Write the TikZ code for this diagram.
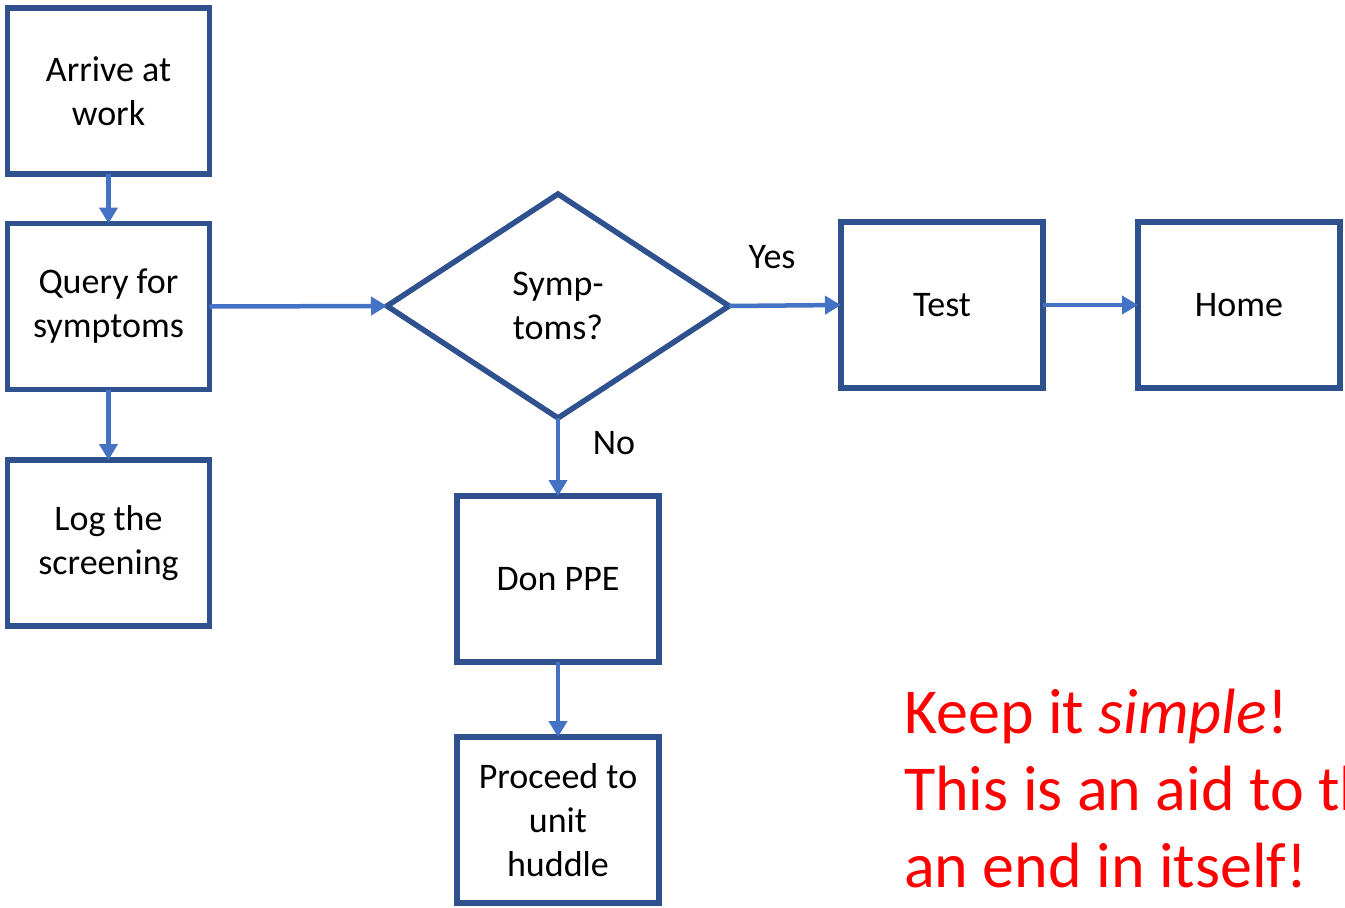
\documentclass[tikz,border=0pt]{standalone}
\usepackage{fontspec}
\setmainfont{Carlito}
\usetikzlibrary{shapes.geometric,arrows.meta}
\definecolor{boxline}{HTML}{2F528F}
\definecolor{flowline}{HTML}{4472C4}
\definecolor{note}{HTML}{FF0000}
\begin{document}
\begin{tikzpicture}[x=1pt,y=-1pt,
  stepbox/.style={draw=boxline,line width=5.5pt,rectangle,inner sep=0pt,outer sep=0pt,
    minimum width=202pt,minimum height=166pt,align=center,
    font=\fontsize{36}{44}\selectfont},
  decision/.style={draw=boxline,line width=5.5pt,diamond,inner sep=0pt,outer sep=0pt,
    minimum width=342pt,minimum height=224pt,align=center,
    font=\fontsize{36}{44}\selectfont},
  flow/.style={draw=flowline,line width=4.5pt,-{Triangle[length=16pt,width=18pt]}},
  tag/.style={font=\fontsize{36}{44}\selectfont,inner sep=0pt},
  notetext/.style={text=note,font=\fontsize{64}{77}\selectfont,inner sep=0pt,anchor=base west}]
\useasboundingbox (0,0) rectangle (1345,908);
\fill[white] (0,0) rectangle (1345,908);

% left column
\node[stepbox] (arrive) at (108.5,91) {Arrive at\\work};
\node[stepbox] (query)  at (108.5,306.5)  {Query for\\symptoms};
\node[stepbox] (log)    at (108.5,543) {Log the\\screening};

% decision and its branches
\node[decision] (symp) at (558,306) {Symp-\\toms?};
\node[stepbox] (test) at (942,305) {Test};
\node[stepbox] (home) at (1239,305) {Home};
\node[stepbox] (ppe)  at (558,579) {Don PPE};
\node[stepbox] (huddle) at (558,820) {Proceed to\\unit\\huddle};

% connectors
\draw[flow] (arrive.south) -- (query.north);
\draw[flow] (query.south) -- (log.north);
\draw[flow] (query.east) -- (symp.west);
\draw[flow] (symp.east) -- (test.west);
\draw[flow] (test.east) -- (home.west);
\draw[flow] (symp.south) -- (ppe.north);
\draw[flow] (ppe.south) -- (huddle.north);

% branch labels
\node[tag] (yes) at (772,257) {Yes};
\node[tag] (no)  at (614,443) {No};

% reminder, running off the right edge
\begin{scope}
\clip (0,0) rectangle (1345,908);
\node[notetext] (n1) at (904,733) {Keep it \textit{simple}!};
\node[notetext] (n2) at (904,810) {This is an aid to th};
\node[notetext] (n3) at (904,887) {an end in itself!};
\end{scope}
\end{tikzpicture}
\end{document}
